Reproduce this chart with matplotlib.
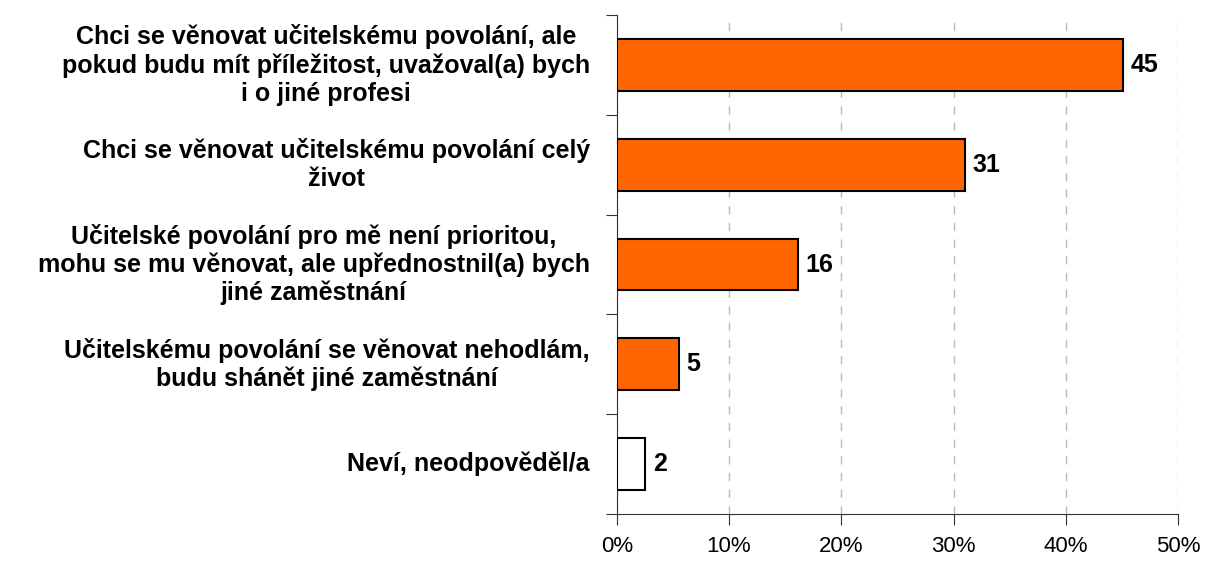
import matplotlib.pyplot as plt

plt.rcParams['font.family'] = ['Liberation Sans', 'DejaVu Sans']

labels = [
    'Chci se věnovat učitelskému povolání, ale\npokud budu mít příležitost, uvažoval(a) bych\ni o jiné profesi',
    'Chci se věnovat učitelskému povolání celý\nživot',
    'Učitelské povolání pro mě není prioritou,\nmohu se mu věnovat, ale upřednostnil(a) bych\njiné zaměstnání',
    'Učitelskému povolání se věnovat nehodlám,\nbudu shánět jiné zaměstnání',
    'Neví, neodpověděl/a',
]
values = [45.1, 31.0, 16.1, 5.5, 2.5]
value_labels = ['45', '31', '16', '5', '2']
colors = ['#FF6600', '#FF6600', '#FF6600', '#FF6600', '#FFFFFF']
xticks = [0, 10, 20, 30, 40, 50]

fig = plt.figure(figsize=(12.07, 5.61), dpi=100)
ax = fig.add_axes([0.511, 0.084, 0.465, 0.889])

pos = list(range(len(values)))
ax.barh(pos, values, height=0.52, color=colors, edgecolor='black', linewidth=1.5, zorder=3)
for p, v, t in zip(pos, values, value_labels):
    ax.text(v + 0.7, p, t, va='center', ha='left', fontsize=18, fontweight='bold')

ax.set_ylim(len(values) - 0.5, -0.5)
ax.set_xlim(0, 50)
ax.set_xticks(xticks)
ax.set_xticklabels([f'{x}%' for x in xticks], fontsize=16)
ax.xaxis.grid(True, linestyle=(0, (6, 6)), color='#BBBBBB', linewidth=1, zorder=0)

# category labels as text, tick marks on boundaries
ax.set_yticks([p - 0.5 for p in pos] + [len(values) - 0.5])
ax.set_yticklabels([])
for p, lab in zip(pos, labels):
    ax.text(-27 / 11.22, p, lab, ha='right', va='center', multialignment='center',
            fontsize=18, fontweight='bold', linespacing=1.2)

for s in ['top', 'right']:
    ax.spines[s].set_visible(False)
ax.spines['left'].set_color('#333333')
ax.spines['bottom'].set_color('#333333')
ax.tick_params(axis='y', length=8, color='#333333')
ax.tick_params(axis='x', length=8, color='#333333', pad=8)

fig.savefig('out.png', dpi=100)
